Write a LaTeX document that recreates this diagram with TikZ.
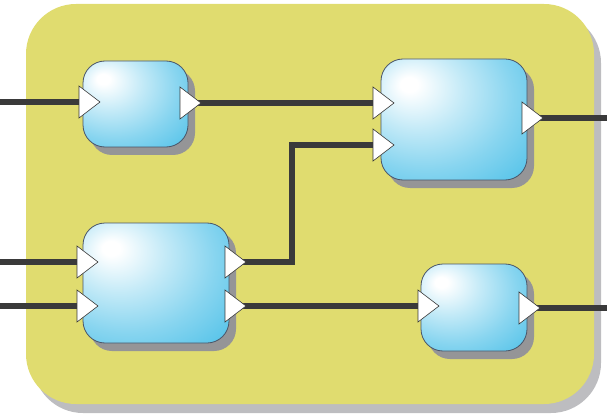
\documentclass[tikz,border=0pt]{standalone}
\usetikzlibrary{shadows}
\definecolor{bgyellow}{HTML}{E0DC6F}
\definecolor{bgshadow}{HTML}{BDBDC0}
\definecolor{boxshadow}{HTML}{959597}
\definecolor{boxblue}{HTML}{55C3E9}
\definecolor{edgecol}{HTML}{4A5568}
\definecolor{wirecol}{HTML}{3A3A3A}
\pgfdeclareradialshading{boxshade}{\pgfpoint{-16bp}{15bp}}{%
  color(0bp)=(white);
  color(3bp)=(white);
  color(16bp)=(boxblue!35!white);
  color(30bp)=(boxblue!70!white);
  color(44bp)=(boxblue);
  color(80bp)=(boxblue)}
\tikzset{
  wire/.style={line width=5.5pt, draw=wirecol},
  blockbox/.style={rounded corners=22pt, draw=edgecol, line width=0.8pt,
    shading=boxshade, inner sep=0pt, outer sep=0pt,
    drop shadow={shadow xshift=7pt, shadow yshift=-8pt, fill=boxshadow, opacity=1}},
  portshape/.style={fill=white, draw=wirecol, line width=0.6pt, line join=miter}
}
\newcommand{\portdraw}[1]{\draw[portshape] (#1) ++(0,-16) -- ++(21,16) -- ++(-21,16) -- cycle;}
\begin{document}
\begin{tikzpicture}[x=1pt,y=-1pt]
\useasboundingbox (0,0) rectangle (607,414);
% background panel
\fill[bgshadow, rounded corners=50pt] (33,13) rectangle (601,413);
\fill[bgyellow, rounded corners=50pt] (26,4) rectangle (594,404);
% free ends
\coordinate (inA) at (0,102);
\coordinate (inC1) at (0,262);
\coordinate (inC2) at (0,306);
\coordinate (outB) at (607,118);
\coordinate (outD) at (607,308);
\coordinate (bend1) at (292,262);
\coordinate (bend2) at (292,145);
% ports (triangle base centres)
\coordinate (Ain) at (79,102);
\coordinate (Aout) at (180,103);
\coordinate (Bin1) at (373,103);
\coordinate (Bin2) at (373,145);
\coordinate (Bout) at (522,118);
\coordinate (Cin1) at (77,262);
\coordinate (Cin2) at (77,306);
\coordinate (Cout1) at (225,262);
\coordinate (Cout2) at (225,306);
\coordinate (Din) at (418,306);
\coordinate (Dout) at (519,308);
% wires
\draw[wire] (inA) -- (Ain);
\draw[wire] (inC1) -- (Cin1);
\draw[wire] (inC2) -- (Cin2);
\draw[wire] (Aout) -- (Bin1);
\draw[wire] (Cout1) -- (bend1) -- (bend2) -- (Bin2);
\draw[wire] (Cout2) -- (Din);
\draw[wire] (Bout) -- (outB);
\draw[wire] (Dout) -- (outD);
% blocks
\node[blockbox, minimum width=105pt, minimum height=86pt] (A) at (135.5,104) {};
\node[blockbox, minimum width=146pt, minimum height=121pt] (B) at (454,119.5) {};
\node[blockbox, minimum width=146pt, minimum height=120pt] (C) at (156,283) {};
\node[blockbox, minimum width=106pt, minimum height=87pt] (D) at (474,307.5) {};
% port triangles
\portdraw{Ain}
\portdraw{Aout}
\portdraw{Bin1}
\portdraw{Bin2}
\portdraw{Bout}
\portdraw{Cin1}
\portdraw{Cin2}
\portdraw{Cout1}
\portdraw{Cout2}
\portdraw{Din}
\portdraw{Dout}
\end{tikzpicture}
\end{document}
